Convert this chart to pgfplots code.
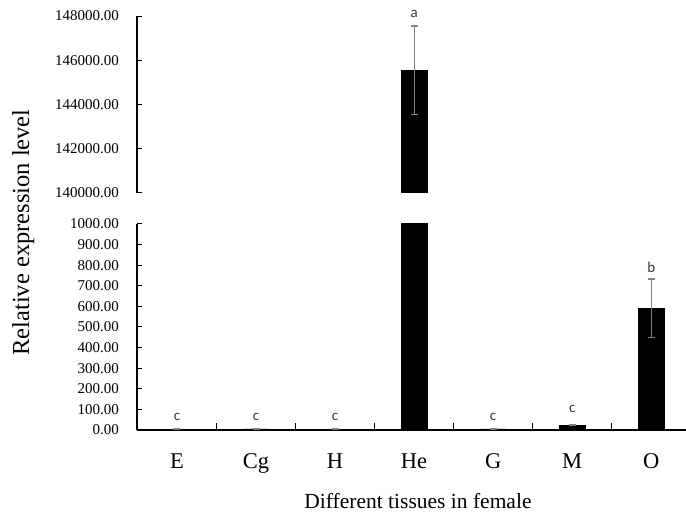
\documentclass[border=0pt]{standalone}
\usepackage{pgfplots}
\pgfplotsset{compat=1.18}
\usepackage{pgfplotstable}
\usepackage{fontspec}
\setmainfont{Liberation Serif}
\newfontfamily\carlito{Carlito}
\definecolor{lettc}{RGB}{45,55,75}
\definecolor{errc}{RGB}{128,128,128}

\pgfplotstableread{
x y err
0 4 1
1 5 1
2 4 1
3 145550 2000
4 5 1
5 24 3
6 592 141
}\data

\pgfplotsset{
  common/.style={
    scale only axis, width=549pt,
    xmin=-0.506, xmax=6.44,
    ybar, bar width=26pt,
    clip mode=individual,
    axis line style={line width=1.2pt, black},
    tick align=inside,
    major tick length=5pt,
    tick style={line width=1pt, black},
    scaled y ticks=false,
    yticklabel style={font=\fontsize{15}{18}\selectfont, anchor=east, inner sep=0pt, xshift=-18pt,
      /pgf/number format/fixed, /pgf/number format/fixed zerofill,
      /pgf/number format/precision=2, /pgf/number format/1000 sep={},
      /pgf/number format/assume math mode=true},
  },
  barplot/.style={fill=black, draw=black,
    error bars/.cd, y dir=both, y explicit,
    error bar style={color=errc, line width=1.1pt},
    error mark options={rotate=90, mark size=3.5pt, color=errc, line width=1.1pt}},
}
\tikzset{lett/.style={font=\carlito\fontsize{15}{18}\selectfont, text=lettc, inner sep=0pt}}

\begin{document}
\begin{tikzpicture}
\useasboundingbox (0,0) rectangle (686pt,512pt);
% lower panel
\begin{axis}[common,
  at={(137pt,82pt)}, anchor=south west, height=206pt,
  ymin=0, ymax=1000,
  axis x line*=bottom, axis y line*=left,
  ytick={0,100,...,1000},
  xtick={0,...,6},
  xticklabels={E,Cg,H,He,G,M,O},
  xticklabel style={font=\fontsize{22.5}{26}\selectfont, anchor=base, inner sep=0pt, yshift=-38pt},
  major x tick style={draw=none},
  minor xtick={0.5,1.5,...,5.5},
  minor tick length=7pt,
  minor x tick style={line width=1pt, black},
]
\addplot[barplot] table[x=x, y expr={min(\thisrow{y},1100)},
  y error expr={(\thisrow{y}>1000) ? 0 : \thisrow{err}}]{\data};
\node[lett] at (axis cs:0,63) {c};
\node[lett] at (axis cs:1,63) {c};
\node[lett] at (axis cs:2,63) {c};
\node[lett] at (axis cs:4,63) {c};
\node[lett] at (axis cs:5,102) {c};
\node[lett] at (axis cs:6,791) {b};
\end{axis}
% upper panel
\begin{axis}[common,
  at={(137pt,319pt)}, anchor=south west, height=177pt,
  ymin=140000, ymax=148000,
  axis x line=none, axis y line*=left,
  ytick={140000,142000,...,148000},
]
\addplot[restrict y to domain=100000:200000, barplot] table[x=x, y=y, y error=err]{\data};
\node[lett] at (axis cs:3,148090) {a};
\end{axis}
\node[anchor=base, font=\fontsize{21.5}{25}\selectfont] at (418pt,4pt) {Different tissues in female};
\node[anchor=base, rotate=90, font=\fontsize{24.5}{28}\selectfont] at (29pt,279.5pt) {Relative expression level};
\end{tikzpicture}
\end{document}
